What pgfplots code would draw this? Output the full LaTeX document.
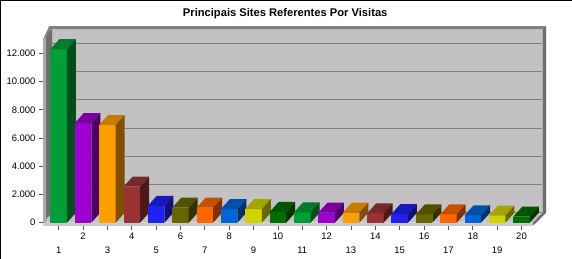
\documentclass[border=0pt]{standalone}
\usepackage{fontspec}
\setmainfont{Liberation Sans}
\usepackage{pgfplots}
\usepackage{pgfplotstable}
\pgfplotsset{compat=1.18}

\definecolor{wallc}{RGB}{196,193,196}
\definecolor{edgec}{RGB}{130,130,130}
\definecolor{darkc}{RGB}{110,110,110}
\definecolor{lightc}{RGB}{170,170,170}
\definecolor{floorc}{RGB}{202,202,202}
\definecolor{gridc}{RGB}{128,128,128}

\definecolor{f0}{RGB}{0,158,56}
\definecolor{f1}{RGB}{158,0,208}
\definecolor{f2}{RGB}{255,158,0}
\definecolor{f3}{RGB}{153,51,51}
\definecolor{f4}{RGB}{32,32,240}
\definecolor{f5}{RGB}{102,102,0}
\definecolor{f6}{RGB}{255,102,0}
\definecolor{f7}{RGB}{0,102,215}
\definecolor{f8}{RGB}{210,210,0}
\definecolor{f9}{RGB}{0,110,0}
\colorlet{t0}{f0!78!black}\colorlet{s0}{f0!50!black}
\colorlet{t1}{f1!78!black}\colorlet{s1}{f1!50!black}
\colorlet{t2}{f2!78!black}\colorlet{s2}{f2!50!black}
\colorlet{t3}{f3!78!black}\colorlet{s3}{f3!50!black}
\colorlet{t4}{f4!78!black}\colorlet{s4}{f4!50!black}
\colorlet{t5}{f5!78!black}\colorlet{s5}{f5!50!black}
\colorlet{t6}{f6!78!black}\colorlet{s6}{f6!50!black}
\colorlet{t7}{f7!78!black}\colorlet{s7}{f7!50!black}
\colorlet{t8}{f8!78!black}\colorlet{s8}{f8!50!black}
\colorlet{t9}{f9!78!black}\colorlet{s9}{f9!50!black}

\pgfplotstableread{
site visits
1 12300
2 7060
3 6920
4 2550
5 1200
6 1060
7 1060
8 970
9 970
10 760
11 730
12 710
13 710
14 660
15 615
16 585
17 585
18 520
19 500
20 425
}\visits

\pgfplotstableread{
u v
0 0
1 0
1 1
0 1
}\unitsq

% one 3D bar: #1 position, #2 value, #3 colour index
\newcommand\tdbar[3]{%
  \addplot[draw=none, fill=f#3] table[x expr={#1-0.339+0.678*\thisrow{u}}, y expr={#2*\thisrow{v}}] {\unitsq};
  \addplot[draw=none, fill=t#3] table[x expr={#1-0.339+0.678*\thisrow{u}+0.3695*\thisrow{v}}, y expr={#2+708*\thisrow{v}}] {\unitsq};
  \addplot[draw=none, fill=s#3] table[x expr={#1+0.339+0.3695*\thisrow{u}}, y expr={#2*\thisrow{v}+708*\thisrow{u}}] {\unitsq};
}

\begin{document}
\begin{tikzpicture}
\path[use as bounding box] (0,0) rectangle (572bp,-259bp);
\begin{scope}[x=1bp,y=-1bp]
  \fill[white] (0,0) rectangle (572,259);
  \fill[black] (0,0) rectangle (1.5,259);
  \fill[black] (0,0) rectangle (572,1);
  % back wall and floor top
  \fill[wallc] (52,29.2) -- (542.5,29.2) -- (542.5,212.7) -- (533,222.7) -- (43,222.7) -- (52,212.7) -- cycle;
  % left wall inner face
  \fill[darkc] (46,35.9) -- (52,29.2) -- (52,212.7) -- (46,219.4) -- cycle;
  % left wall front edge
  \fill[lightc] (43,39.3) -- (46,35.9) -- (46,225.7) -- (43,225.7) -- cycle;
  % top band
  \fill[edgec] (43,39.3) -- (49.3,26) -- (546,26) -- (542.5,29.2) -- (52,29.2) -- (46,35.9) -- cycle;
  % right wall and floor side
  \fill[darkc] (542.5,29.2) -- (546,26) -- (546,213) -- (533,225.7) -- (533,222.7) -- (542.5,212.7) -- cycle;
  % floor front strip
  \fill[floorc] (43,222.7) rectangle (533,225.7);
  \node[font=\bfseries\fontsize{11.2}{13}\selectfont, inner sep=0pt, anchor=base] at (285.2,16.6) {Principais Sites Referentes Por Visitas};
\end{scope}
\begin{axis}[
  at={(43bp,-225.7bp)}, anchor=south west,
  scale only axis, width=490bp, height=186.5bp,
  xmin=0.3555, xmax=20.472, ymin=-212.5, ymax=13000,
  axis x line*=bottom, axis y line*=left,
  axis line style={draw=none},
  tick align=outside, major tick length=4bp,
  tick style={draw=black!65, line width=0.8bp},
  scaled ticks=false,
  ytick={2000,4000,...,12000},
  extra y ticks={0},
  xtick={2,4,...,20},
  extra x ticks={1,3,...,19},
  extra x tick style={xticklabel style={yshift=-13.5bp}},
  ymajorgrids,
  grid style={draw=gridc, line width=1bp, xshift=9bp, yshift=10bp},
  ticklabel style={font=\fontsize{9.5}{11}\selectfont, text=black},
  /pgf/number format/1000 sep={.},
  /pgf/number format/assume math mode=true,
  clip=false,
]
\pgfplotsinvokeforeach{0,...,19}{
  \pgfplotstablegetelem{#1}{site}\of\visits \let\xx\pgfplotsretval
  \pgfplotstablegetelem{#1}{visits}\of\visits \let\yy\pgfplotsretval
  \pgfmathtruncatemacro\ci{mod(#1,10)}
  \edef\temp{\noexpand\tdbar{\xx}{\yy}{\ci}}
  \temp
}
\end{axis}
\end{tikzpicture}
\end{document}
